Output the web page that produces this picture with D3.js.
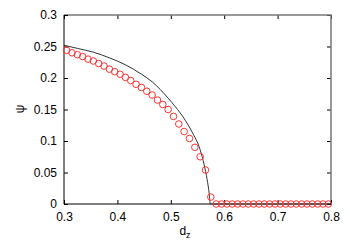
<!DOCTYPE html>
<html>
<head>
<meta charset="utf-8">
<script src="https://cdn.jsdelivr.net/npm/d3@7"></script>
<style>
  body { margin: 0; background: #fff; }
  text { font-family: "Liberation Sans", Arial, sans-serif; fill: #000; }
</style>
</head>
<body>
<div id="chart"></div>
<script>
// simulation points (circles)
var simD = [0.305, 0.315, 0.325, 0.335, 0.345, 0.355, 0.365, 0.375, 0.385, 0.395,
  0.405, 0.415, 0.425, 0.435, 0.445, 0.455, 0.465, 0.475, 0.485, 0.495,
  0.505, 0.515, 0.525, 0.535, 0.545, 0.555, 0.565, 0.575,
  0.585, 0.595, 0.605, 0.615, 0.625, 0.635, 0.645, 0.655, 0.665, 0.675, 0.685,
  0.695, 0.705, 0.715, 0.725, 0.735, 0.745, 0.755, 0.765, 0.775, 0.785, 0.795];
var simPsi = [0.244, 0.240, 0.237, 0.234, 0.230, 0.227, 0.223, 0.219, 0.214, 0.210,
  0.206, 0.201, 0.196, 0.190, 0.185, 0.179, 0.173, 0.165, 0.158, 0.150,
  0.139, 0.127, 0.115, 0.104, 0.090, 0.075, 0.054, 0.011,
  0, 0, 0, 0, 0, 0, 0, 0, 0, 0, 0,
  0, 0, 0, 0, 0, 0, 0, 0, 0, 0, 0];

// theory curve (solid line)
var theoryD = [0.300, 0.325, 0.355, 0.385, 0.415, 0.445, 0.465, 0.480, 0.495, 0.508,
  0.527, 0.540, 0.555, 0.5625, 0.568, 0.572, 0.574, 0.8];
var theoryPsi = [0.252, 0.247, 0.241, 0.232, 0.221, 0.206, 0.194, 0.182, 0.168, 0.155,
  0.133, 0.114, 0.086, 0.062, 0.039, 0.016, 0, 0];

var xTicks = [0.3, 0.4, 0.5, 0.6, 0.7, 0.8];
var yTicks = [0, 0.05, 0.1, 0.15, 0.2, 0.25, 0.3];

var W = 350, H = 245;
var pLeft = 64, pRight = 331, pTop = 15, pBottom = 204;

var svg = d3.select('#chart').append('svg')
  .attr('width', W)
  .attr('height', H);

var x = d3.scaleLinear().domain([0.3, 0.8]).range([pLeft, pRight]);
var y = d3.scaleLinear().domain([0, 0.3]).range([pBottom, pTop]);

// mirrored ticks on the top and right
svg.append('g')
  .attr('transform', 'translate(0,' + pTop + ')')
  .call(d3.axisBottom(x).tickValues(xTicks).tickSize(4).tickFormat(''))
  .call(function(g) { g.select('.domain').remove(); });
svg.append('g')
  .attr('transform', 'translate(' + pRight + ',0)')
  .call(d3.axisLeft(y).tickValues(yTicks).tickSize(4).tickFormat(''))
  .call(function(g) { g.select('.domain').remove(); });

// top and right border (greyish, like the original)
svg.append('path')
  .attr('d', 'M' + pLeft + ',' + pTop + 'H' + pRight + 'V' + pBottom)
  .attr('fill', 'none')
  .attr('stroke', '#777')
  .attr('stroke-width', 1.5);

// bottom axis
var xa = svg.append('g')
  .attr('transform', 'translate(0,' + pBottom + ')')
  .call(d3.axisTop(x).tickValues(xTicks).tickSize(4).tickFormat(d3.format('.1f')));
xa.select('.domain').remove();
xa.selectAll('text')
  .attr('y', 17)
  .attr('dy', 0)
  .style('font-size', '12px');

// left axis
var ya = svg.append('g')
  .attr('transform', 'translate(' + pLeft + ',0)')
  .call(d3.axisRight(y).tickValues(yTicks).tickSize(4).tickFormat(function(d) { return d3.format('~g')(d); }));
ya.select('.domain').remove();
ya.selectAll('text')
  .attr('x', -7)
  .attr('text-anchor', 'end')
  .style('font-size', '12px');

svg.append('path')
  .attr('d', 'M' + pLeft + ',' + pTop + 'V' + pBottom + 'H' + pRight)
  .attr('fill', 'none')
  .attr('stroke', '#000')
  .attr('stroke-width', 1);

// theory line
var line = d3.line()
  .x(function(d, i) { return x(theoryD[i]); })
  .y(function(d) { return y(d); })
  .curve(d3.curveMonotoneX);

svg.append('path')
  .datum(theoryPsi)
  .attr('d', line)
  .attr('fill', 'none')
  .attr('stroke', '#333')
  .attr('stroke-width', 1);

// simulation circles
svg.selectAll('circle.sim')
  .data(simPsi)
  .enter()
  .append('circle')
  .attr('class', 'sim')
  .attr('cx', function(d, i) { return x(simD[i]); })
  .attr('cy', function(d) { return y(d); })
  .attr('r', 3.3)
  .attr('fill', 'none')
  .attr('stroke', '#f33')
  .attr('stroke-width', 1);

// axis titles
svg.append('text')
  .attr('transform', 'translate(24,109) rotate(-90)')
  .attr('text-anchor', 'middle')
  .style('font-size', '12px')
  .text('ψ');

var t = svg.append('text')
  .attr('x', 185)
  .attr('y', 235)
  .attr('text-anchor', 'middle')
  .style('font-size', '12px');
t.append('tspan').text('d');
t.append('tspan').attr('dy', 3).style('font-size', '9px').text('z');
</script>
</body>
</html>
